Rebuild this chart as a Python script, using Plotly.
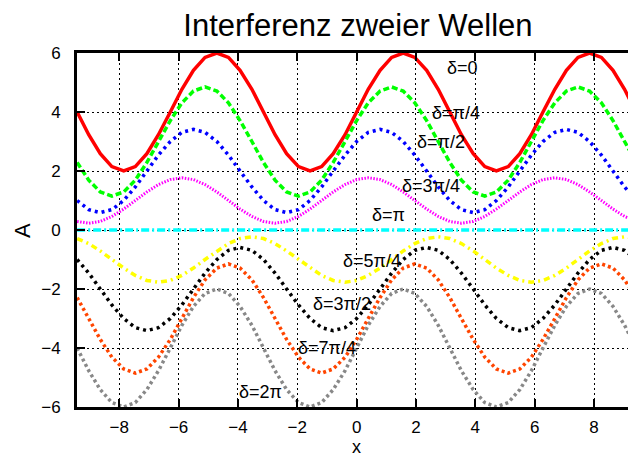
import plotly.graph_objects as go

# Sample positions along x (steps of pi/8 from -3*pi to 3*pi)
x = [-9.42, -9.03, -8.64, -8.25, -7.85, -7.46, -7.07, -6.68, -6.28, -5.89,
     -5.50, -5.11, -4.71, -4.32, -3.93, -3.53, -3.14, -2.75, -2.36, -1.96,
     -1.57, -1.18, -0.79, -0.39, 0.00, 0.39, 0.79, 1.18, 1.57, 1.96,
     2.36, 2.75, 3.14, 3.53, 3.93, 4.32, 4.71, 5.11, 5.50, 5.89,
     6.28, 6.68, 7.07, 7.46, 7.85, 8.25, 8.64, 9.03, 9.42]

# Resulting amplitude A(x) for each phase difference delta
a_0 = [4, 3.23, 2.59, 2.15, 2, 2.15, 2.59, 3.23, 4, 4.77, 5.41, 5.85, 6, 5.85, 5.41, 4.77,
       4, 3.23, 2.59, 2.15, 2, 2.15, 2.59, 3.23, 4, 4.77, 5.41, 5.85, 6, 5.85, 5.41, 4.77,
       4, 3.23, 2.59, 2.15, 2, 2.15, 2.59, 3.23, 4, 4.77, 5.41, 5.85, 6, 5.85, 5.41, 4.77, 4]
a_pi4 = [2.29, 1.69, 1.29, 1.15, 1.29, 1.69, 2.29, 3, 3.71, 4.31, 4.71, 4.85, 4.71, 4.31, 3.71, 3,
         2.29, 1.69, 1.29, 1.15, 1.29, 1.69, 2.29, 3, 3.71, 4.31, 4.71, 4.85, 4.71, 4.31, 3.71, 3,
         2.29, 1.69, 1.29, 1.15, 1.29, 1.69, 2.29, 3, 3.71, 4.31, 4.71, 4.85, 4.71, 4.31, 3.71, 3, 2.29]
a_pi2 = [1, 0.69, 0.59, 0.69, 1, 1.46, 2, 2.54, 3, 3.31, 3.41, 3.31, 3, 2.54, 2, 1.46,
         1, 0.69, 0.59, 0.69, 1, 1.46, 2, 2.54, 3, 3.31, 3.41, 3.31, 3, 2.54, 2, 1.46,
         1, 0.69, 0.59, 0.69, 1, 1.46, 2, 2.54, 3, 3.31, 3.41, 3.31, 3, 2.54, 2, 1.46, 1]
a_3pi4 = [0.29, 0.23, 0.29, 0.46, 0.71, 1, 1.29, 1.54, 1.71, 1.77, 1.71, 1.54, 1.29, 1, 0.71, 0.46,
          0.29, 0.23, 0.29, 0.46, 0.71, 1, 1.29, 1.54, 1.71, 1.77, 1.71, 1.54, 1.29, 1, 0.71, 0.46,
          0.29, 0.23, 0.29, 0.46, 0.71, 1, 1.29, 1.54, 1.71, 1.77, 1.71, 1.54, 1.29, 1, 0.71, 0.46, 0.29]
a_pi = [0, 0, 0, 0, 0, 0, 0, 0, 0, 0, 0, 0, 0, 0, 0, 0,
        0, 0, 0, 0, 0, 0, 0, 0, 0, 0, 0, 0, 0, 0, 0, 0,
        0, 0, 0, 0, 0, 0, 0, 0, 0, 0, 0, 0, 0, 0, 0, 0, 0]
a_5pi4 = [-0.29, -0.46, -0.71, -1, -1.29, -1.54, -1.71, -1.77, -1.71, -1.54, -1.29, -1, -0.71, -0.46, -0.29, -0.23,
          -0.29, -0.46, -0.71, -1, -1.29, -1.54, -1.71, -1.77, -1.71, -1.54, -1.29, -1, -0.71, -0.46, -0.29, -0.23,
          -0.29, -0.46, -0.71, -1, -1.29, -1.54, -1.71, -1.77, -1.71, -1.54, -1.29, -1, -0.71, -0.46, -0.29, -0.23, -0.29]
a_3pi2 = [-1, -1.46, -2, -2.54, -3, -3.31, -3.41, -3.31, -3, -2.54, -2, -1.46, -1, -0.69, -0.59, -0.69,
          -1, -1.46, -2, -2.54, -3, -3.31, -3.41, -3.31, -3, -2.54, -2, -1.46, -1, -0.69, -0.59, -0.69,
          -1, -1.46, -2, -2.54, -3, -3.31, -3.41, -3.31, -3, -2.54, -2, -1.46, -1, -0.69, -0.59, -0.69, -1]
a_7pi4 = [-2.29, -3, -3.71, -4.31, -4.71, -4.85, -4.71, -4.31, -3.71, -3, -2.29, -1.69, -1.29, -1.15, -1.29, -1.69,
          -2.29, -3, -3.71, -4.31, -4.71, -4.85, -4.71, -4.31, -3.71, -3, -2.29, -1.69, -1.29, -1.15, -1.29, -1.69,
          -2.29, -3, -3.71, -4.31, -4.71, -4.85, -4.71, -4.31, -3.71, -3, -2.29, -1.69, -1.29, -1.15, -1.29, -1.69, -2.29]
a_2pi = [-4, -4.77, -5.41, -5.85, -6, -5.85, -5.41, -4.77, -4, -3.23, -2.59, -2.15, -2, -2.15, -2.59, -3.23,
         -4, -4.77, -5.41, -5.85, -6, -5.85, -5.41, -4.77, -4, -3.23, -2.59, -2.15, -2, -2.15, -2.59, -3.23,
         -4, -4.77, -5.41, -5.85, -6, -5.85, -5.41, -4.77, -4, -3.23, -2.59, -2.15, -2, -2.15, -2.59, -3.23, -4]

# Curve labels and where they sit
labels = ["δ=0", "δ=π/4", "δ=π/2", "δ=3π/4", "δ=π", "δ=5π/4", "δ=3π/2", "δ=7π/4", "δ=2π"]
label_x = [3.0, 2.5, 2.0, 1.5, 0.5, -0.5, -1.5, -2.0, -4.0]
label_y = [5.5, 3.95, 3.0, 1.5, 0.5, -1.05, -2.5, -4.0, -5.5]

series = [a_0, a_pi4, a_pi2, a_3pi4, a_pi, a_5pi4, a_3pi2, a_7pi4, a_2pi]
colors = ["#ff0000", "#00ff00", "#0000ff", "#ff00ff", "#00ffff",
          "#ffff00", "#000000", "#ff4500", "#888888"]
dashes = ["solid", "6px,3px", "3px,4px", "1.5px,1.5px", "8px,3px,2px,3px",
          "6px,4px,2px,4px", "3px,4px", "3px,3px", "3px,3px"]
widths = [3.5, 3.5, 3.5, 3.0, 3.5, 3.5, 3.5, 3.5, 3.5]

FONT = "Liberation Sans, Arial, sans-serif"

fig = go.Figure()
for name, ys, c, d, w in zip(labels, series, colors, dashes, widths):
    fig.add_trace(go.Scatter(x=x, y=ys, mode="lines", name=name,
                             line=dict(color=c, dash=d, width=w)))

for t, lx, ly in zip(labels, label_x, label_y):
    fig.add_annotation(x=lx, y=ly, text=t, showarrow=False, xanchor="left",
                       yanchor="middle", font=dict(family=FONT, size=18, color="black"),
                       borderpad=0)

# Axis titles
fig.add_annotation(text="A", xref="paper", yref="paper", x=-0.1, y=0.5,
                   xanchor="center", yanchor="middle", textangle=-90, showarrow=False,
                   font=dict(family=FONT, size=22, color="black"))
fig.add_annotation(text="x", xref="paper", yref="paper", x=0.508, y=-0.113,
                   xanchor="center", yanchor="middle", showarrow=False,
                   font=dict(family=FONT, size=18, color="black"), borderpad=0)

fig.update_layout(
    width=628, height=459,
    margin=dict(l=77, r=0, t=53, b=52),
    paper_bgcolor="white", plot_bgcolor="white",
    showlegend=False,
    font=dict(family=FONT, size=17, color="black"),
    title=dict(text="Interferenz zweier Wellen", xref="container", yref="container",
               x=0.570, y=0.945, xanchor="center", yanchor="middle",
               font=dict(family=FONT, size=31, color="black")),
)
fig.update_xaxes(range=[-9.425, 9.146], tickvals=[-8, -6, -4, -2, 0, 2, 4, 6, 8],
                 ticks="inside", ticklen=8, tickwidth=2, tickcolor="black",
                 showline=True, linecolor="black", linewidth=3, mirror="ticks",
                 showgrid=True, gridcolor="black", gridwidth=1, griddash="2px,3px",
                 zeroline=False, ticklabelstandoff=3)
fig.update_yaxes(range=[-6, 6], tickvals=[-6, -4, -2, 0, 2, 4, 6],
                 ticks="inside", ticklen=8, tickwidth=2, tickcolor="black",
                 showline=True, linecolor="black", linewidth=3, mirror=False,
                 showgrid=True, gridcolor="black", gridwidth=1, griddash="2px,3px",
                 zeroline=False, ticklabelstandoff=10)

fig.write_html("out.html")
